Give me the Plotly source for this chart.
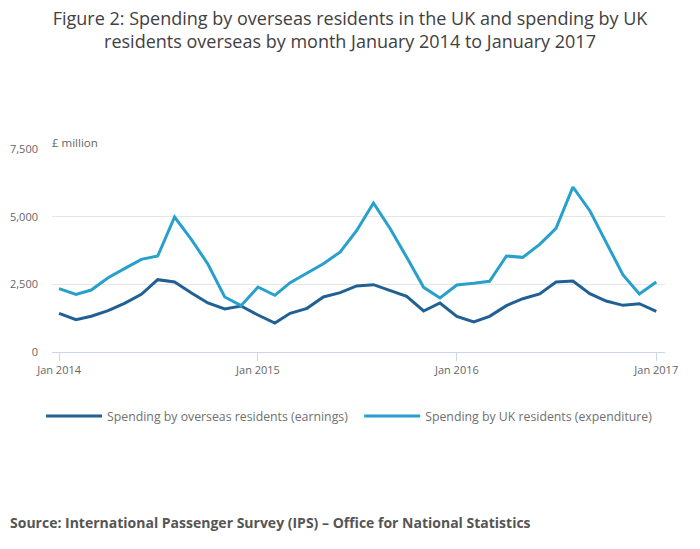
import plotly.graph_objects as go
import pandas as pd

months = pd.date_range("2014-01-01", "2017-01-01", freq="MS").strftime("%Y-%m-%d").tolist()

earnings = [1430, 1195, 1320, 1527, 1798, 2130, 2672, 2586, 2180, 1810, 1589, 1700,
            1367, 1071, 1429, 1613, 2032, 2192, 2440, 2488, 2266, 2057, 1515, 1810,
            1318, 1108, 1318, 1712, 1970, 2143, 2586, 2623, 2155, 1884, 1724, 1786,
            1502]
expenditure = [2340, 2130, 2290, 2746, 3079, 3424, 3547, 4988, 4150, 3251, 2032, 1712,
               2401, 2094, 2561, 2919, 3263, 3695, 4480, 5505, 4544, 3497, 2389, 1995,
               2475, 2537, 2611, 3547, 3497, 3978, 4569, 6096, 5222, 4052, 2845, 2143,
               2586]

series_names = ["Spending by overseas residents (earnings)",
                "Spending by UK residents (expenditure)"]
tick_dates = ["2014-01-01", "2015-01-01", "2016-01-01", "2017-01-01"]
tick_labels = ["Jan 2014", "Jan 2015", "Jan 2016", "Jan 2017"]
y_ticks = [0, 2500, 5000, 7500]

FONT = "Open Sans"
fig = go.Figure()
fig.add_trace(go.Scatter(x=months, y=earnings, mode="lines", name=series_names[0] + "\u00a0\u00a0",
                         line=dict(color="#206095", width=3)))
fig.add_trace(go.Scatter(x=months, y=expenditure, mode="lines", name=series_names[1],
                         line=dict(color="#27a0cc", width=3)))

fig.update_layout(
    width=700, height=549,
    paper_bgcolor="white", plot_bgcolor="white",
    margin=dict(l=52, r=35, t=149, b=197, autoexpand=False),
    font=dict(family=FONT, color="#666666", size=11),
    title=dict(text="Figure 2: Spending by overseas residents in the UK and spending by UK<br>residents overseas by month January 2014 to January 2017",
               x=0.5, xanchor="center", y=1 - 25 / 549, yanchor="middle",
               font=dict(family=FONT, size=18, color="#414042")),
    showlegend=True,
    legend=dict(orientation="h", x=(49 - 5 - 52 - 10 + 7) / 613, xanchor="left",
                y=-0.315, yanchor="middle",
                font=dict(family=FONT, size=12.3, color="#707070"),
                itemwidth=56, tracegroupgap=0),
    xaxis=dict(type="date", range=["2013-12-19", "2017-01-17"],
               tickvals=tick_dates, ticktext=tick_labels,
               showgrid=False, zeroline=False,
               showline=True, linecolor="#ccd6eb", linewidth=1,
               ticks="outside", ticklen=8, tickcolor="#ccd6eb",
               tickfont=dict(family=FONT, size=11, color="#666666")),
    yaxis=dict(range=[0, 7500], tickvals=y_ticks, tickformat=",",
               showgrid=True, gridcolor="#e6e6e6", gridwidth=1,
               zeroline=False, showline=False, ticks="",
               ticklabelstandoff=13,
               tickfont=dict(family=FONT, size=11, color="#666666")),
    annotations=[
        dict(text="£ million", xref="paper", yref="paper", x=-2 / 613, y=1 + 7 / 203,
             xanchor="left", yanchor="middle", showarrow=False,
             font=dict(family=FONT, size=11.5, color="#666666")),
        dict(text="<b>Source: International Passenger Survey (IPS) – Office for National Statistics</b>",
             xref="paper", yref="paper", x=-44 / 613, y=(352 - 522) / 203,
             xanchor="left", yanchor="middle", showarrow=False,
             font=dict(family=FONT, size=14, color="#555555")),
    ],
)

fig.write_html("out.html", config={"displayModeBar": False},
               post_script="document.body.style.margin='0';")
